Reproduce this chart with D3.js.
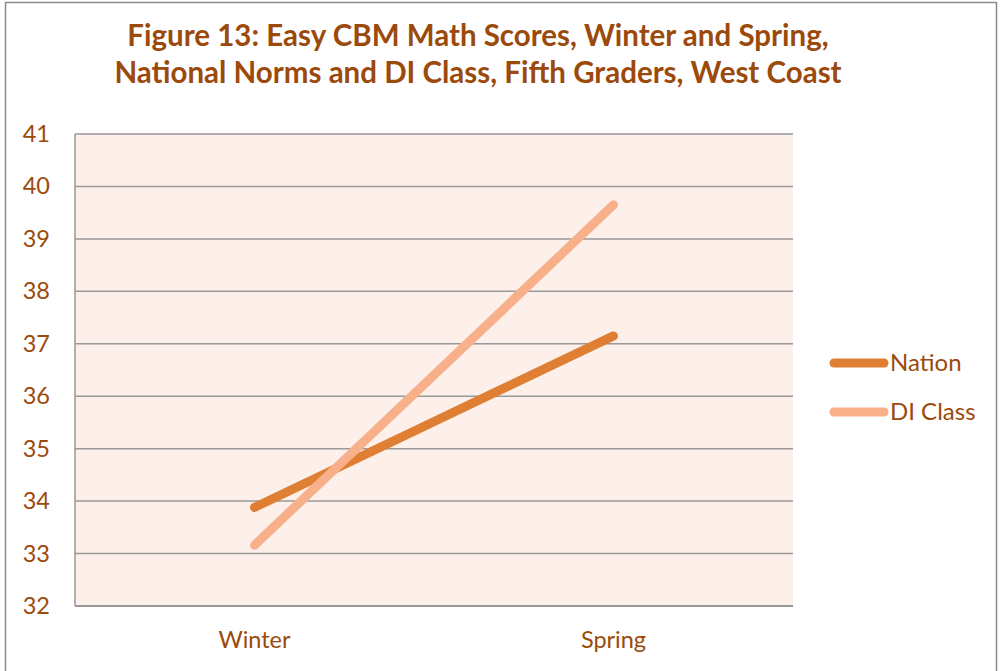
<!DOCTYPE html>
<head>
   <meta charset="utf-8">
   <script src="https://d3js.org/d3.v7.min.js"></script>
   <style>
   body{ margin: 0; background: #ffffff; }
   text{
      font-family: Lato, "Open Sans", sans-serif;
      fill: #9b4a0c;
   }
   text.title{
      font-size: 29.5px;
      font-weight: 700;
   }
   text.tickLabel{ font-size: 23.5px; }
   text.legendLabel{ font-size: 24px; }
   </style>
</head>
<body>
<script>
const width = 1002;
const height = 671;

const categories = ["Winter", "Spring"];
const seriesNames = ["Nation", "DI Class"];
const nationValues = [33.88, 37.15];
const diClassValues = [33.16, 39.65];
const yTicks = [32, 33, 34, 35, 36, 37, 38, 39, 40, 41];
const seriesColors = ["#de7f34", "#f8b08a"];

const titleLines = [
   "Figure 13: Easy CBM Math Scores, Winter and Spring,",
   "National Norms and DI Class, Fifth Graders, West Coast"
];

const margin = {top: 134, right: 209, bottom: 65, left: 75};

const svg = d3.select("body").append("svg")
   .attr("width", width)
   .attr("height", height);

// outer frame
svg.append("rect")
   .attr("x", 5.5).attr("y", 2.5)
   .attr("width", 991).attr("height", height + 10)
   .attr("fill", "none")
   .attr("stroke", "#8c8c8c")
   .attr("stroke-width", 1.5);

svg.selectAll("text.title")
   .data(titleLines)
   .enter()
   .append("text")
   .attr("class", "title")
   .attr("x", 478)
   .attr("y", (d, i) => 46 + i * 37)
   .style("text-anchor", "middle")
   .text(d => d);

const x = d3.scaleBand()
   .domain(categories)
   .range([margin.left, width - margin.right]);

const y = d3.scaleLinear()
   .domain([32, 41])
   .range([height - margin.bottom, margin.top]);

svg.append("rect")
   .attr("x", x.range()[0])
   .attr("y", y(41))
   .attr("width", x.range()[1] - x.range()[0])
   .attr("height", y(32) - y(41))
   .attr("fill", "#fdefea");

// gridlines
svg.append("g")
   .selectAll("line")
   .data(yTicks)
   .enter()
   .append("line")
   .attr("x1", x.range()[0])
   .attr("x2", x.range()[1])
   .attr("y1", d => y(d))
   .attr("y2", d => y(d))
   .attr("stroke", "#999999")
   .attr("stroke-width", d => d == 32 ? 2 : 1.5);

svg.append("line")
   .attr("x1", x.range()[0]).attr("x2", x.range()[0])
   .attr("y1", y(41)).attr("y2", y(32))
   .attr("stroke", "#999999")
   .attr("stroke-width", 1.5);

svg.append("g")
   .selectAll("text")
   .data(yTicks)
   .enter()
   .append("text")
   .attr("class", "tickLabel")
   .attr("x", 50)
   .attr("y", d => y(d) + 8)
   .style("text-anchor", "end")
   .text(d => d);

svg.append("g")
   .selectAll("text")
   .data(categories)
   .enter()
   .append("text")
   .attr("class", "tickLabel")
   .attr("x", d => x(d) + x.bandwidth() / 2)
   .attr("y", 648)
   .style("text-anchor", "middle")
   .text(d => d);

const series = [nationValues, diClassValues];
const line = d3.line()
   .x((d, i) => x(categories[i]) + x.bandwidth() / 2)
   .y(d => y(d));

svg.append("g")
   .selectAll("path")
   .data(series)
   .enter()
   .append("path")
   .attr("d", d => line(d))
   .attr("fill", "none")
   .attr("stroke", (d, i) => seriesColors[i])
   .attr("stroke-width", 9)
   .attr("stroke-linecap", "round");

const legend = svg.append("g")
   .selectAll("g")
   .data(seriesNames)
   .enter()
   .append("g")
   .attr("transform", (d, i) => `translate(0, ${363 + i * 49})`);

legend.append("line")
   .attr("x1", 834).attr("x2", 884)
   .attr("stroke", (d, i) => seriesColors[i])
   .attr("stroke-width", 9)
   .attr("stroke-linecap", "round");

legend.append("text")
   .attr("class", "legendLabel")
   .attr("x", 890)
   .attr("y", 8)
   .text(d => d);
</script>
</body>
